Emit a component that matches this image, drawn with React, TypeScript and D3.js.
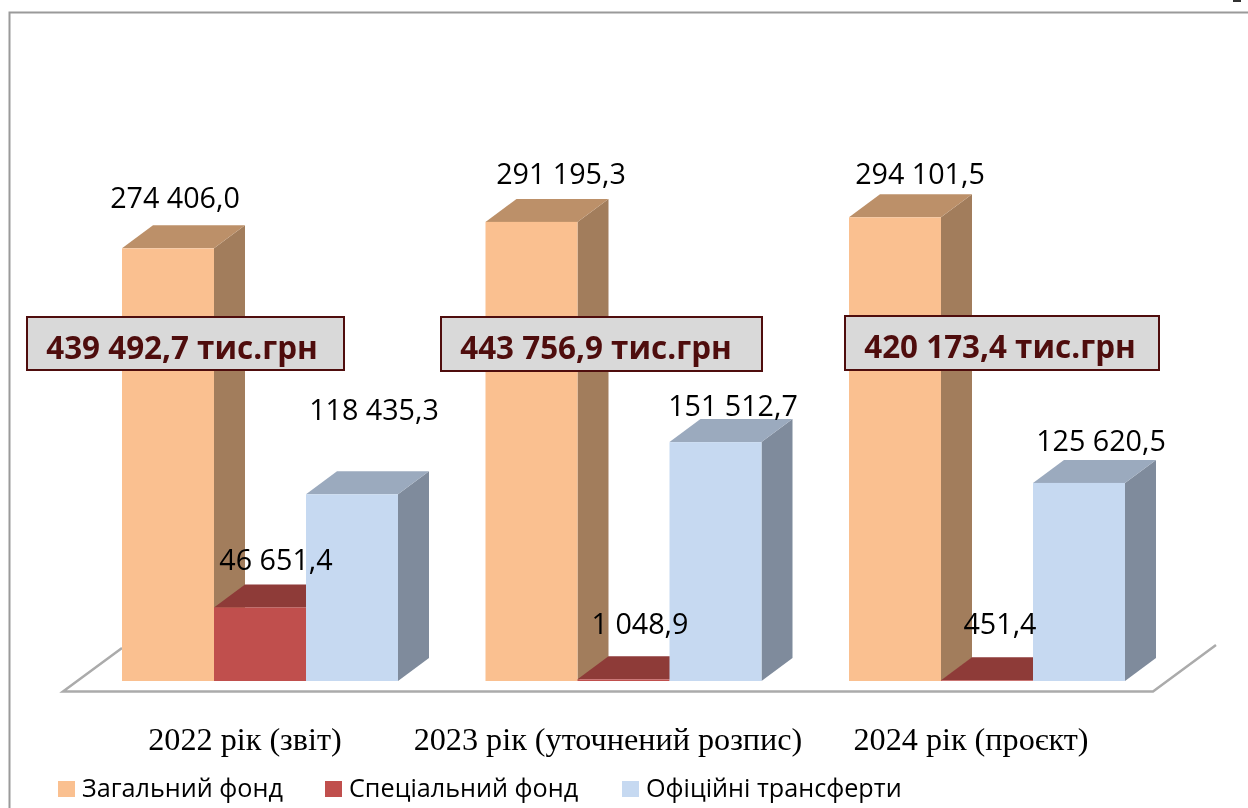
import React from "react";
import * as d3 from "d3";

const categories = ["2022 рік (звіт)", "2023 рік (уточнений розпис)", "2024 рік (проєкт)"];
const seriesNames = ["Загальний фонд", "Спеціальний фонд", "Офіційні трансферти"];
const generalFund = [274406.0, 291195.3, 294101.5];
const specialFund = [46651.4, 1048.9, 451.4];
const transfers = [118435.3, 151512.7, 125620.5];
const seriesValues = [generalFund, specialFund, transfers];
const valueLabels = [
  ["274 406,0", "291 195,3", "294 101,5"],
  ["46 651,4", "1 048,9", "451,4"],
  ["118 435,3", "151 512,7", "125 620,5"],
];
const totals = ["439 492,7 тис.грн", "443 756,9 тис.грн", "420 173,4 тис.грн"];

const front = ["#FAC090", "#C0504D", "#C6D9F1"];
const side = ["#A27D5C", "#8E3B39", "#7F8B9C"];
const top = ["#BC9069", "#8E3B39", "#9BAABE"];

const y = d3.scaleLinear().domain([0, 300000]).range([681, 208]);
const groupX = d3.scaleLinear().domain([0, 2]).range([122, 849]);
const barX = d3.scaleBand<number>().domain([0, 1, 2]).range([0, 276]).padding(0);
const DX = 31;
const DY = -23;

// label anchor positions [series][group]: centre x, baseline y
const labelPos = [
  [[175, 208], [561, 184], [920, 184]],
  [[276, 570], [640, 634], [1000, 634]],
  [[374, 420], [733, 416], [1101, 451]],
];
const boxes = [
  [27, 317, 317, 53, 182],
  [441, 317, 321, 54, 596],
  [845, 316, 314, 54, 1000],
];
const catX = [245, 608, 971];
const legendX = [58, 325, 622];

const App = () => {
  const bw = barX.bandwidth();
  return (
    <svg width={1248} height={808} style={{ position: "absolute", left: 0, top: 0, background: "#fff" }}>
      <defs>
        <filter id="soft" x="-5%" y="-5%" width="110%" height="110%">
          <feGaussianBlur stdDeviation="0.45" />
        </filter>
      </defs>
      <g filter="url(#soft)">
        <path d="M9.5,808 V12.5 H1248" fill="none" stroke="#9a9a9a" strokeWidth={2} />
        <rect x={1233} y={0} width={8} height={2} fill="#333" />
        <path d="M1216,645 L1153,691.5 H63 L122,648" fill="none" stroke="#ababab" strokeWidth={2.5} />
        {[0, 1, 2].map((s) =>
          categories.map((_, g) => {
            const x0 = groupX(g) + barX(s)!;
            const x1 = x0 + bw;
            const y0 = y(seriesValues[s][g]);
            const b = y(0);
            return (
              <g key={`${s}-${g}`}>
                <path d={`M${x1},${b} L${x1 + DX},${b + DY} V${y0 + DY} L${x1},${y0} Z`} fill={side[s]} />
                <path d={`M${x0},${y0} L${x0 + DX},${y0 + DY} H${x1 + DX} L${x1},${y0} Z`} fill={top[s]} />
                <rect x={x0} y={y0} width={bw} height={b - y0} fill={front[s]} />
              </g>
            );
          })
        )}
        {boxes.map((b, i) => (
          <g key={i}>
            <rect x={b[0]} y={b[1]} width={b[2]} height={b[3]} fill="#D9D9D9" stroke="#4F1111" strokeWidth={2} />
          </g>
        ))}
      </g>
      <g filter="url(#soft)" fontFamily="'Open Sans'" fill="#000">
        {valueLabels.map((row, s) =>
          row.map((t, g) => (
            <text key={`${s}${g}`} x={labelPos[s][g][0]} y={labelPos[s][g][1]} fontSize={28.7} textAnchor="middle">
              {t}
            </text>
          ))
        )}
        {boxes.map((b, i) => (
          <text key={i} x={b[4]} y={b[1] + 42} fontSize={31.4} fontWeight={700} fill="#4F1111" textAnchor="middle">
            {totals[i]}
          </text>
        ))}
        {categories.map((c, i) => (
          <text key={c} x={catX[i]} y={750} fontFamily="'Liberation Serif'" fontSize={32.2} textAnchor="middle">
            {c}
          </text>
        ))}
        {seriesNames.map((n, i) => (
          <g key={n}>
            <rect x={legendX[i]} y={781} width={17} height={16} fill={front[i]} />
            <text x={legendX[i] + 24} y={797} fontSize={25.2}>
              {n}
            </text>
          </g>
        ))}
      </g>
    </svg>
  );
};

export default App;
